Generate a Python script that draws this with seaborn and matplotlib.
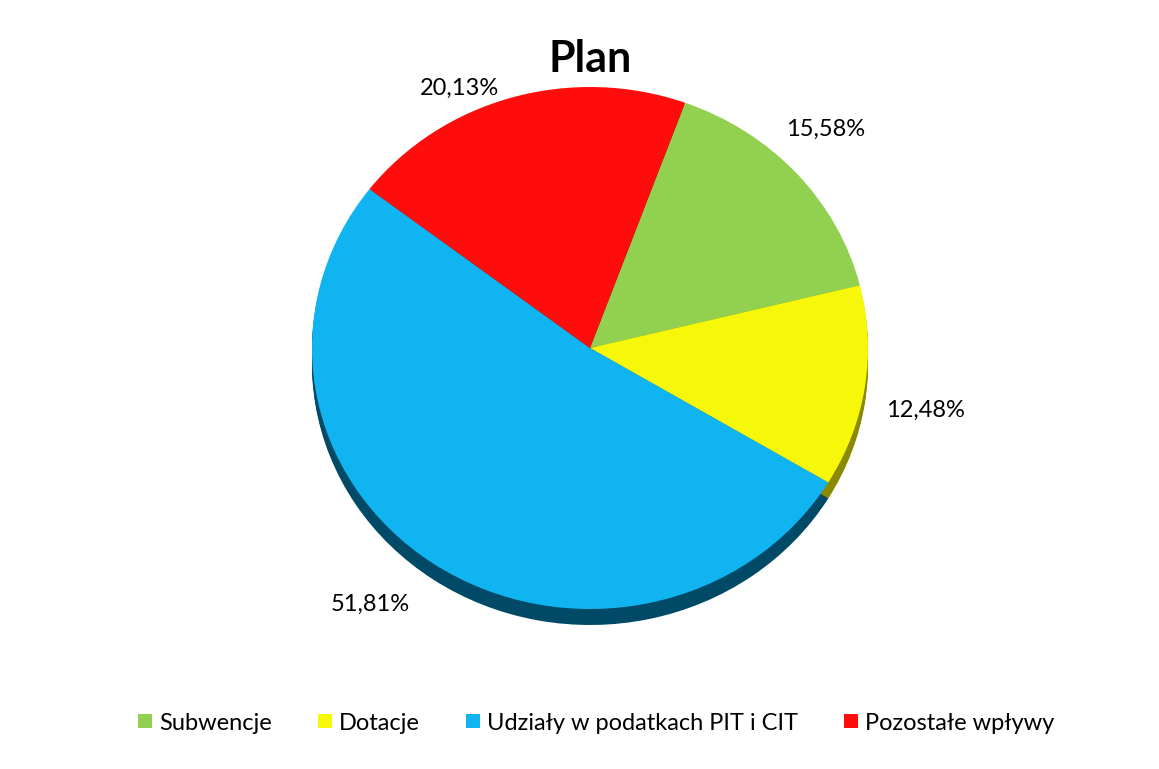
import matplotlib
matplotlib.use("Agg")
import numpy as np
import matplotlib.pyplot as plt
from matplotlib.lines import Line2D
import seaborn as sns

categories = ["Subwencje", "Dotacje", "Udziały w podatkach PIT i CIT", "Pozostałe wpływy"]
values = [15.58, 12.48, 51.81, 20.13]
colors = ["#92D050", "#F7F70A", "#10B4F0", "#FF0D0D"]
side_colors = ["#5E8A30", "#8A8A00", "#004A68", "#8A0000"]
title = "Plan"

# label placement style (radius, angular offset clockwise in degrees)
label_r = [1.19, 1.23, 1.26, 1.10]
label_off = [-2.7, 2.6, 4.6, -9.0]

sns.set_style("white")
plt.rcParams["font.family"] = ["Lato", "DejaVu Sans"]

W, H = 1159, 769
fig = plt.figure(figsize=(W / 100, H / 100), dpi=100)
ax = fig.add_axes([0, 0, 1, 1])
ax.set_axis_off()

cx, cy = 590, 348
rx, ry = 278, 261

def setlims():
    ax.set_xlim(-cx / rx, (W - cx) / rx)
    ax.set_ylim(-(H - cy) / ry, cy / ry)
    ax.set_aspect("auto")

start = 90 - 20
depth = 16 / ry
n = 8
for k in range(n):
    ax.pie(values, colors=side_colors, startangle=start, counterclock=False,
           center=(0, -depth * (k + 1) / n), radius=1.0,
           wedgeprops=dict(linewidth=0))

wedges, texts = ax.pie(values, colors=colors, startangle=start, counterclock=False,
                       center=(0, 0), radius=1.0, wedgeprops=dict(linewidth=0))
setlims()

for w, v, r, off in zip(wedges, values, label_r, label_off):
    mid = (w.theta1 + w.theta2) / 2.0 - off
    a = np.deg2rad(mid)
    ax.text(r * np.cos(a), r * np.sin(a), f"{v:.2f}%".replace(".", ","),
            ha="center", va="center", fontsize=17, color="#000000")

fig.text(590 / W, 1 - 72 / H, title, ha="center", va="baseline", fontsize=31,
         fontweight="bold", color="#000000")

handles = [Line2D([0], [0], marker="s", linestyle="none", markersize=10,
                  markerfacecolor=c, markeredgewidth=0) for c in colors]
fig.legend(handles, categories, loc="center", bbox_to_anchor=(596 / W, 1 - 723 / H),
           ncol=4, frameon=False, fontsize=17, handlelength=0.6, handletextpad=0.3,
           columnspacing=1.95, labelcolor="#000000")

fig.savefig("out.png", dpi=100, facecolor="white")
